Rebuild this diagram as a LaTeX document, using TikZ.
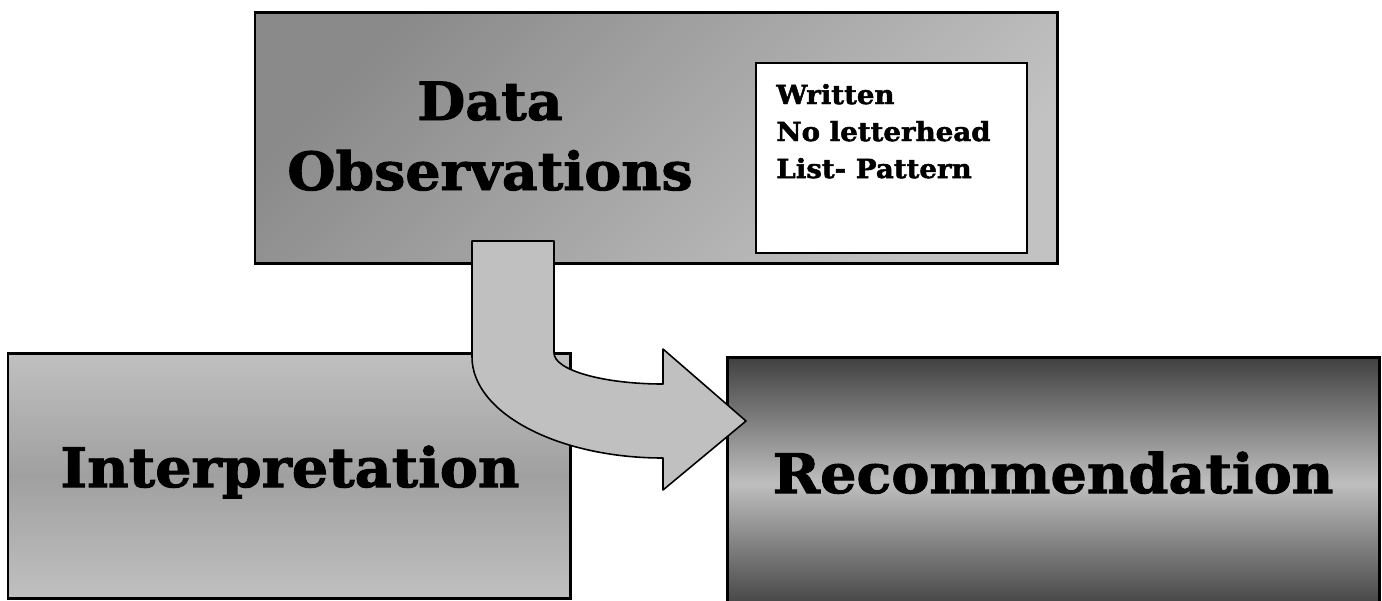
\documentclass[tikz,border=0pt]{standalone}
\usepackage{fontspec}
\newfontfamily\heavyfont[FakeStretch=1.05, BoldFeatures={FakeBold=1.8}]{DejaVu Serif}
\definecolor{obsdark}{HTML}{8A8A8A}
\definecolor{obslight}{HTML}{C2C2C2}
\definecolor{intedge}{HTML}{C0C0C0}
\definecolor{intmid}{HTML}{A0A0A0}
\definecolor{recdark}{HTML}{404040}
\definecolor{reclight}{HTML}{BEBEBE}
\definecolor{arrowgray}{HTML}{C0C0C0}
\tikzset{
  box/.style={draw=black, line width=1.7pt},
  notebox/.style={draw=black, fill=white, line width=1.2pt},
  turnarrow/.style={draw=black, fill=arrowgray, line width=.9pt, line join=round},
  bigtext/.style={inner sep=0pt, font=\heavyfont\bfseries\fontsize{31}{37}\selectfont},
  notetext/.style={inner sep=0pt, font=\heavyfont\bfseries\fontsize{15}{18}\selectfont}
}
\begin{document}
\begin{tikzpicture}[x=.02cm, y=-.02cm]
                \useasboundingbox (0,0) rectangle (1382,600);
                \path
                (255,12) coordinate (O1)
                (1057,263) coordinate (O2)
                (756,63) coordinate (N1)
                (1027,253) coordinate (N2)
                (8,353) coordinate (I1)
                (570,598) coordinate (I2)
                (727,357) coordinate (R1)
                (1379,610) coordinate (R2);
                % the three boxes, each with its own shading
                \shade[box, top color=obsdark, bottom color=obslight, shading angle=45] (O1) rectangle (O2);
                \draw[notebox] (N1) rectangle (N2);
                \shade[box, top color=intedge, bottom color=intedge, middle color=intmid] (I1) rectangle (I2);
                \shade[box, top color=recdark, bottom color=recdark, middle color=reclight] (R1) rectangle (R2);
                % bent arrow from the top box into the right one
                \path
                (472,241) coordinate (A1)
                (472,357) coordinate (A2)
                (663,458) coordinate (A3)
                (663,490) coordinate (A4)
                (746,421) coordinate (A5)
                (663,349) coordinate (A6)
                (663,384) coordinate (A7)
                (554,353) coordinate (A8)
                (554,241) coordinate (A9);
                \draw[turnarrow] (A1)--(A2) .. controls (472,413) and (558,458) .. (A3)--(A4)--(A5)--(A6)--(A7)
                  .. controls (603,384) and (554,370) .. (A8)--(A9)--cycle;
                % labels
                \node[bigtext, font=\heavyfont\bfseries\fontsize{30}{36}\selectfont, anchor=base] (data) at (490,120) {Data};
                \node[bigtext, font=\heavyfont\bfseries\fontsize{30}{36}\selectfont, anchor=base] (obs) at (490,190) {Observations};
                \node[bigtext, anchor=base] (interp) at (290,487) {Interpretation};
                \node[bigtext, anchor=base] (recom) at (1053,493) {Recommendation};
                \foreach \t/\y in {Written/104,No letterhead/141,List- Pattern/178}\node[notetext, anchor=base west] (note\y) at (776,\y) {\t};
        \end{tikzpicture}
\end{document}
